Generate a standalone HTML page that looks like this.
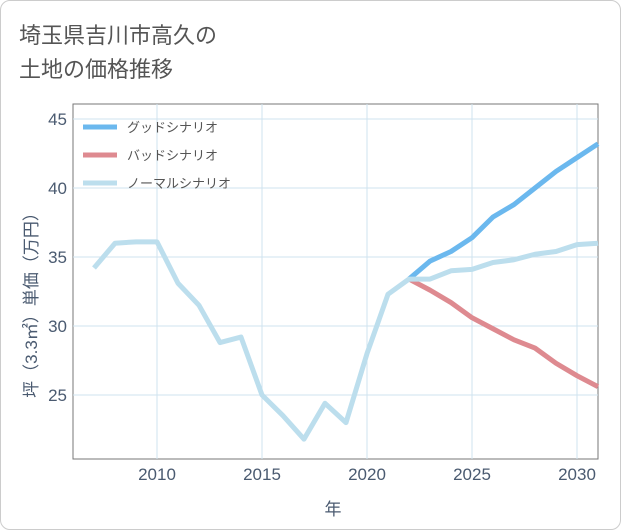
<!DOCTYPE html>
<html><head><meta charset="utf-8"><style>
body{margin:0;background:#fff;font-family:"Liberation Sans","Noto Sans CJK JP",sans-serif;}
#wrap{position:relative;width:619px;height:528px;border:1px solid #ccc;border-radius:10px;overflow:hidden;}
</style></head><body>
<div id="wrap">
<svg id="chart" width="621" height="530">
<text x="18" y="42" font-size="22" fill="#555">埼玉県吉川市高久の</text>
<text x="18" y="76" font-size="22" fill="#555">土地の価格推移</text>
<rect x="72" y="103" width="525" height="355" fill="none" stroke="#777" stroke-width="1"/>
<g id="grid"></g><g id="series"></g><g id="legend"></g>
<text x="332" y="514" font-size="17" fill="#4a5a70" text-anchor="middle">年</text>
<text transform="translate(36,300) rotate(-90)" font-size="17" fill="#4a5a70" text-anchor="middle">坪（3.3㎡）単価（万円）</text>
</svg></div>
<script>
const years=[2007,2008,2009,2010,2011,2012,2013,2014,2015,2016,2017,2018,2019,2020,2021,2022,2023,2024,2025,2026,2027,2028,2029,2030,2031];
const normal=[34.2,36.0,36.1,36.1,33.1,31.5,28.8,29.2,25.0,23.5,21.8,24.4,23.0,28.0,32.3,33.4,33.4,34.0,34.1,34.6,34.8,35.2,35.4,35.9,36.0];
const fcYears=[2022,2023,2024,2025,2026,2027,2028,2029,2030,2031];
const good=[33.4,34.7,35.4,36.4,37.9,38.8,40.0,41.2,42.2,43.2];
const bad=[33.4,32.6,31.7,30.6,29.8,29.0,28.4,27.3,26.4,25.6];
const xTicks=[2010,2015,2020,2025,2030];
const yTicks=[25,30,35,40,45];
const legendLabels=['グッドシナリオ','バッドシナリオ','ノーマルシナリオ'];
const colors=['#6bb8ee','#de8a90','#bcdeed'];
const NS='http://www.w3.org/2000/svg';
const x=v=>156+(v-2010)*21, y=v=>118+(45-v)*13.8;
function mk(tag,attrs,parent,text){const e=document.createElementNS(NS,tag);for(const k in attrs)e.setAttribute(k,attrs[k]);if(text!==undefined)e.textContent=text;parent.appendChild(e);return e;}
const grid=document.getElementById('grid'),ser=document.getElementById('series'),leg=document.getElementById('legend');
xTicks.forEach(t=>{
 const l=mk('line',{x1:x(t),x2:x(t),y1:103,y2:458,stroke:'#cfe3ef'},grid);
 
 
 const tx=mk('text',{x:x(t),y:479,'font-size':17,fill:'#4a5a70','text-anchor':'middle'},grid,String(t));
 
 
});
yTicks.forEach(t=>{
 const l=mk('line',{x1:72,x2:597,y1:y(t),y2:y(t),stroke:'#cfe3ef'},grid);
 
 
 const tx=mk('text',{x:66,y:y(t)+6,'font-size':17,fill:'#4a5a70','text-anchor':'end'},grid,String(t));
 
 
});
function line(xs,vs,c,name){
 const p=mk('polyline',{points:xs.map((v,i)=>x(v)+','+y(vs[i])).join(' '),fill:'none',stroke:c,'stroke-width':5,'stroke-linejoin':'round'},ser);
 
 
}
line(fcYears,bad,colors[1],'bad-scenario-line');
line(fcYears,good,colors[0],'good-scenario-line');
line(years,normal,colors[2],'normal-scenario-line');
legendLabels.forEach((s,i)=>{
 const yy=126+i*28;
 const l=mk('line',{x1:82,x2:116,y1:yy,y2:yy,stroke:colors[i],'stroke-width':5},leg);
 
 
 const t=mk('text',{x:126,y:yy+5,'font-size':13,fill:'#555'},leg,s);
 
 
});
</script>
</body></html>
